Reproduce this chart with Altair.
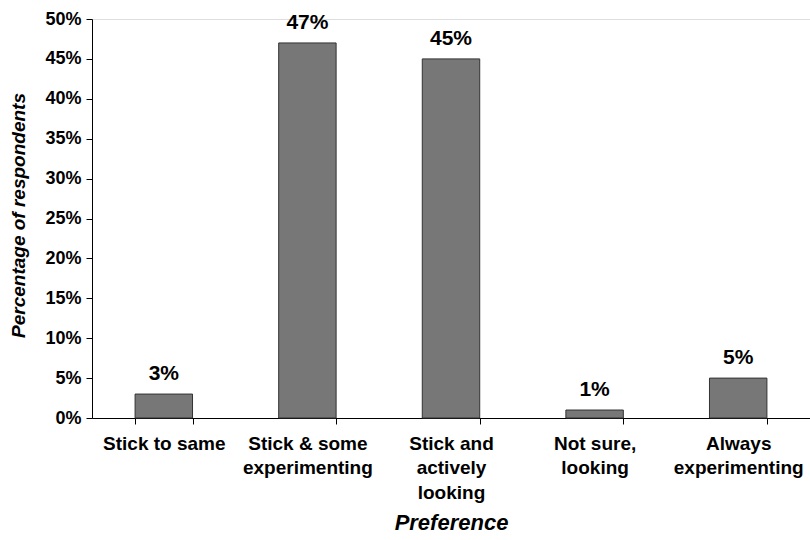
import altair as alt
import pandas as pd

# Survey responses: share of respondents by preference
preferences = [
    "Stick to same",
    "Stick & some\nexperimenting",
    "Stick and\nactively\nlooking",
    "Not sure,\nlooking",
    "Always\nexperimenting",
]
percentages = [3, 47, 45, 1, 5]
y_ticks = [0, 5, 10, 15, 20, 25, 30, 35, 40, 45, 50]

df = pd.DataFrame({"preference": preferences, "pct": percentages})
df["label"] = df["pct"].astype(str) + "%"

FONT = "Liberation Sans"

x = alt.X(
    "preference:N",
    sort=preferences,
    scale=alt.Scale(paddingInner=0.6, paddingOuter=0.3),
    axis=alt.Axis(
        title="Preference",
        labelExpr="split(datum.label, '\\n')",
        labelAngle=0,
        labelFont=FONT,
        labelFontSize=19,
        labelFontWeight="bold",
        labelColor="black",
        labelLineHeight=24.5,
        labelPadding=10,
        labelBaseline="top",
        labelOverlap=False,
        tickBand="extent",
        tickSize=6,
        tickColor="black",
        domainColor="black",
        titleFont=FONT,
        titleFontSize=22,
        titleFontWeight="bold",
        titleFontStyle="italic",
        titleColor="black",
        titleX=359,
        titleY=104,
        titleBaseline="middle",
    ),
)

y = alt.Y(
    "pct:Q",
    scale=alt.Scale(domain=[0, 50], nice=False),
    axis=alt.Axis(
        title="Percentage of respondents",
        values=y_ticks,
        labelExpr="datum.value + '%'",
        labelFont=FONT,
        labelFontSize=18,
        labelFontWeight="bold",
        labelColor="black",
        labelPadding=5,
        labelOverlap=False,
        tickSize=6,
        tickColor="black",
        domainColor="black",
        grid=False,
        titleFont=FONT,
        titleFontSize=19,
        titleFontWeight="bold",
        titleFontStyle="italic",
        titleColor="black",
        titleX=-74,
        titleY=196,
        titleBaseline="middle",
    ),
)

base = alt.Chart(df).encode(x=x, y=y)

bars = base.mark_bar(color="#777777", stroke="#333333", strokeWidth=1)

labels = base.mark_text(
    font=FONT, fontSize=21, fontWeight="bold", color="black",
    baseline="alphabetic", dy=-14,
).encode(text="label:N")

chart = (
    alt.layer(bars, labels)
    .properties(
        width=718,
        height=399,
        autosize=alt.AutoSizeParams(type="none"),
        padding={"left": 92, "top": 19, "right": 0, "bottom": 122},
    )
    .configure_view(stroke=None)
    .configure(background="white")
)

chart.save("out.html", embed_options={"renderer": "svg", "actions": False})
